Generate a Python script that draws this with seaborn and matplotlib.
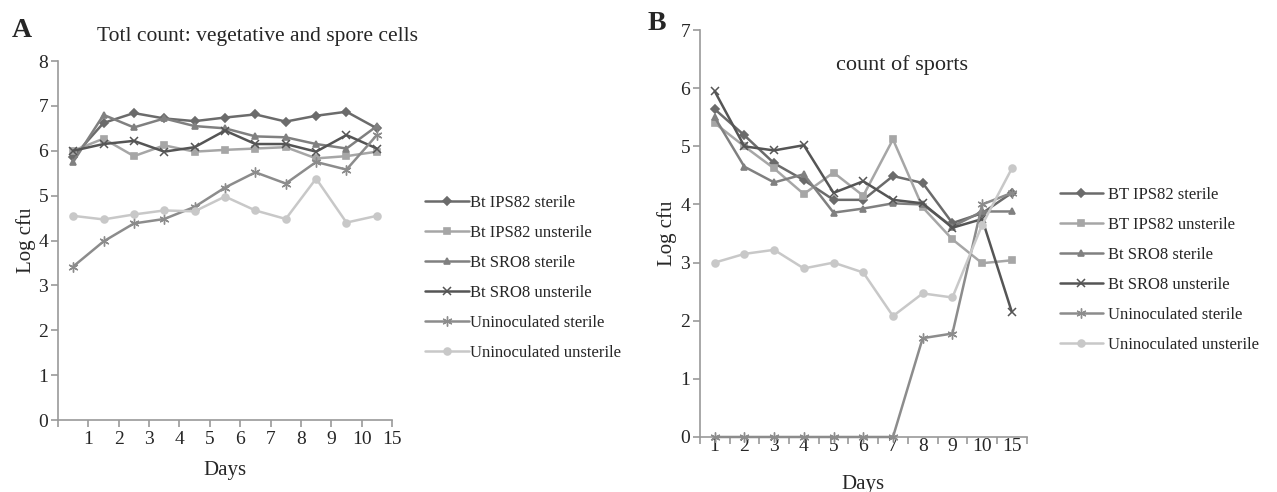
import numpy as np
import matplotlib
matplotlib.use("Agg")
import matplotlib.pyplot as plt
import seaborn as sns

# --- data ---
days = ["1", "2", "3", "4", "5", "6", "7", "8", "9", "10", "15"]

labels_a = ["Bt IPS82 sterile", "Bt IPS82 unsterile", "Bt SRO8 sterile",
            "Bt SRO8 unsterile", "Uninoculated sterile", "Uninoculated unsterile"]
labels_b = ["BT IPS82 sterile", "BT IPS82 unsterile", "Bt SRO8 sterile",
            "Bt SRO8 unsterile", "Uninoculated sterile", "Uninoculated unsterile"]

# panel A: total count (vegetative + spore cells)
a_ips82_sterile = [5.86, 6.62, 6.84, 6.72, 6.66, 6.74, 6.81, 6.65, 6.78, 6.87, 6.50]
a_ips82_unsterile = [6.00, 6.27, 5.88, 6.12, 5.98, 6.02, 6.05, 6.08, 5.83, 5.88, 5.98]
a_sro8_sterile = [5.75, 6.80, 6.52, 6.72, 6.55, 6.50, 6.32, 6.30, 6.15, 6.05, 6.55]
a_sro8_unsterile = [6.00, 6.15, 6.22, 5.98, 6.08, 6.45, 6.15, 6.15, 5.98, 6.35, 6.05]
a_uninoc_sterile = [3.42, 3.98, 4.38, 4.48, 4.75, 5.18, 5.52, 5.27, 5.75, 5.58, 6.35]
a_uninoc_unsterile = [4.55, 4.47, 4.58, 4.67, 4.65, 4.98, 4.67, 4.48, 5.38, 4.40, 4.55]

# panel B: count of spores
b_ips82_sterile = [5.64, 5.19, 4.71, 4.42, 4.08, 4.08, 4.49, 4.37, 3.68, 3.85, 4.20]
b_ips82_unsterile = [5.40, 5.00, 4.62, 4.18, 4.55, 4.15, 5.12, 3.95, 3.40, 2.99, 3.04]
b_sro8_sterile = [5.50, 4.65, 4.38, 4.52, 3.86, 3.93, 4.02, 4.00, 3.62, 3.88, 3.88]
b_sro8_unsterile = [5.95, 5.00, 4.93, 5.02, 4.20, 4.40, 4.08, 4.02, 3.60, 3.75, 2.15]
b_uninoc_sterile = [0, 0, 0, 0, 0, 0, 0, 1.70, 1.78, 4.00, 4.20]
b_uninoc_unsterile = [3.00, 3.15, 3.22, 2.90, 3.00, 2.83, 2.08, 2.47, 2.40, 3.65, 4.62]

series_a = [a_ips82_sterile, a_ips82_unsterile, a_sro8_sterile,
            a_sro8_unsterile, a_uninoc_sterile, a_uninoc_unsterile]
series_b = [b_ips82_sterile, b_ips82_unsterile, b_sro8_sterile,
            b_sro8_unsterile, b_uninoc_sterile, b_uninoc_unsterile]

greys = ["#6b6b6b", "#a6a6a6", "#808080", "#555555", "#8c8c8c", "#c8c8c8"]
marks = ["D", "s", "^", "x", (6, 2, 0), "o"]
msizes = [7, 9, 9, 11, 13, 9]
medge = [1.2, 1.2, 1.2, 1.1, 1.0, 1.2]

sns.set_theme(style="white")
plt.rcParams["font.family"] = ["Liberation Serif", "DejaVu Serif"]

fig = plt.figure(figsize=(12.77, 4.92), dpi=100)
ax_a = fig.add_axes([0.0454, 0.1463, 0.2616, 0.7297])
ax_b = fig.add_axes([0.548, 0.1118, 0.256, 0.827])

pos = np.arange(len(days)) + 0.5


def draw(ax, labels, series):
    for lab, vals, c, m, ms, mew in zip(labels, series, greys, marks, msizes, medge):
        sns.lineplot(x=pos, y=vals, color=c, marker=m, markersize=ms,
                     markeredgecolor=c, markeredgewidth=mew, linewidth=1.8,
                     label=lab, ax=ax, clip_on=False, zorder=3)
    handles, labs = ax.get_legend_handles_labels()
    for h, ms in zip(handles, msizes):
        h.set_markersize(ms * 0.55)
    ax.get_legend().remove()
    for side in ["top", "right"]:
        ax.spines[side].set_visible(False)
    for side in ["left", "bottom"]:
        ax.spines[side].set_color("#9a9a9a")
        ax.spines[side].set_linewidth(1.2)
    ax.set_xlim(0, len(days))
    ax.tick_params(axis="both", which="both", direction="out", length=5,
                   color="#9a9a9a", labelsize=14, pad=2, width=1.2,
                   bottom=True, left=True)
    ax.set_ylabel("Log cfu", fontsize=15, labelpad=2)
    return handles, labs


# panel A: labels sit on the tick marks, points between them
h_a, l_a = draw(ax_a, labels_a, series_a)
ax_a.set_ylim(0, 8)
ax_a.set_yticks(range(0, 9))
ax_a.set_xticks(range(0, len(days) + 1))
ax_a.set_xticklabels([""] + days)
ax_a.tick_params(axis="x", pad=3)
ax_a.set_xlabel("Days", fontsize=15, labelpad=9)
fig.text(0.202, 0.925, "Totl count: vegetative and spore cells", fontsize=15.5,
         ha="center", va="center")
ax_a.legend(h_a, l_a, loc="upper left", bbox_to_anchor=(1.08, 0.645),
            frameon=False, fontsize=12, handlelength=2.6, handletextpad=0.1,
            labelspacing=0.84, borderaxespad=0)
fig.text(0.009, 0.925, "A", fontsize=20, fontweight="bold")

# panel B: labels centred between tick marks
h_b, l_b = draw(ax_b, labels_b, series_b)
ax_b.set_ylim(0, 7)
ax_b.set_yticks(range(0, 8))
ax_b.set_xticks(range(0, len(days) + 1))
ax_b.set_xticklabels([])
ax_b.set_xticks(pos, minor=True)
ax_b.set_xticklabels(days, minor=True)
ax_b.tick_params(axis="x", which="minor", length=0, pad=1)
ax_b.set_xlabel("Days", fontsize=15, labelpad=14)
fig.text(0.706, 0.868, "count of sports", fontsize=16, ha="center", va="center")
ax_b.legend(h_b, l_b, loc="upper left", bbox_to_anchor=(1.08, 0.63),
            frameon=False, fontsize=12, handlelength=2.6, handletextpad=0.3,
            labelspacing=0.84, borderaxespad=0)
fig.text(0.507, 0.94, "B", fontsize=20, fontweight="bold")

fig.savefig("out.png", dpi=100)
